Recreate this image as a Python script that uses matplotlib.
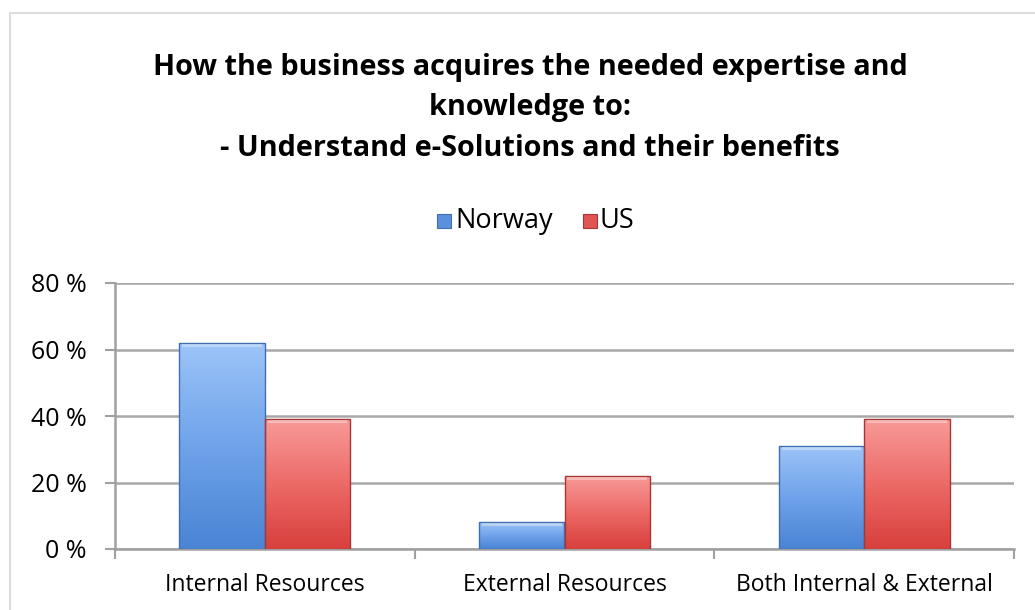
import numpy as np
import matplotlib.pyplot as plt
from matplotlib.patches import Rectangle
from matplotlib.colors import LinearSegmentedColormap

categories = ["Internal Resources", "External Resources", "Both Internal & External"]
series_names = ["Norway", "US"]
norway = [62, 8, 31]
us = [39, 22, 39]
yticks = [0, 20, 40, 60, 80]
ytick_labels = ["0 %", "20 %", "40 %", "60 %", "80 %"]

title = ("How the business acquires the needed expertise and\n"
         "knowledge to:\n"
         "- Understand e-Solutions and their benefits")

plt.rcParams['font.family'] = ['Open Sans', 'DejaVu Sans']

W, H = 1035, 610
fig = plt.figure(figsize=(W / 100, H / 100), dpi=100)
ax = fig.add_axes([115 / W, 1 - 549 / H, (1014 - 115) / W, (549 - 283) / H])

blue_cmap = LinearSegmentedColormap.from_list("b", ["#4a84d4", "#6fa3ea", "#9cc4f8"])
red_cmap = LinearSegmentedColormap.from_list("r", ["#d8403d", "#ec6a67", "#f79a98"])
edge_cols = {"Norway": "#3f6fb0", "US": "#a83634"}

x = np.arange(len(categories))
bw = 0.285
grad = np.linspace(0, 1, 100).reshape(-1, 1)

def draw_bar(xc, val, cmap, edge):
    x0, x1 = xc - bw / 2, xc + bw / 2
    im = ax.imshow(grad, cmap=cmap, extent=[x0, x1, 0, val], origin="lower",
                   aspect="auto", zorder=3)
    r = Rectangle((x0, 0), bw, val, facecolor="none", edgecolor=edge, lw=1.0, zorder=4)
    ax.add_patch(r)
    im.set_clip_path(r)
    # bevel highlight at the top
    ax.add_patch(Rectangle((x0 + 0.01, val - min(1.2, val * 0.15)), bw - 0.02,
                           min(1.0, val * 0.12), facecolor="white", alpha=0.35,
                           lw=0, zorder=5))

for i in range(len(categories)):
    draw_bar(x[i] - bw / 2, norway[i], blue_cmap, edge_cols["Norway"])
    draw_bar(x[i] + bw / 2, us[i], red_cmap, edge_cols["US"])

ax.set_xlim(-0.5, len(categories) - 0.5)
ax.set_ylim(0, 80)
ax.set_yticks(yticks)
ax.set_yticklabels(ytick_labels, fontsize=18)
ax.set_xticks(x)
ax.set_xticklabels(categories, fontsize=16.5)
ax.set_xticks(np.arange(len(categories) + 1) - 0.5, minor=True)
ax.tick_params(axis="x", which="major", length=0, pad=17)
ax.tick_params(axis="x", which="minor", length=7, color="#a0a0a0", width=1.5)
ax.tick_params(axis="y", length=7.5, color="#a0a0a0", width=1.5, pad=13)
ax.yaxis.grid(True, color="#a8a8a8", lw=1.8, zorder=0)
ax.set_axisbelow(True)
for s in ["top", "right"]:
    ax.spines[s].set_visible(False)
for s in ["left", "bottom"]:
    ax.spines[s].set_color("#a0a0a0")
    ax.spines[s].set_linewidth(1.8)

fig.text(530 / W, 1 - 108 / H, title, ha="center", va="center", fontsize=20.8,
         fontweight="bold", linespacing=1.5)

# legend
legend_y = 1 - 221 / H
fig.patches.append(Rectangle((437 / W, legend_y - 7 / H), 14 / W, 14 / H,
                             transform=fig.transFigure, facecolor="#5b91dc",
                             edgecolor="#3f6fb0", lw=0.8))
fig.text(455 / W, legend_y, series_names[0], ha="left", va="center", fontsize=19.5)
fig.patches.append(Rectangle((583 / W, legend_y - 7 / H), 14 / W, 14 / H,
                             transform=fig.transFigure, facecolor="#e05553",
                             edgecolor="#a83634", lw=0.8))
fig.text(600 / W, legend_y, series_names[1], ha="left", va="center", fontsize=19.5)

# outer chart border
fig.patches.append(Rectangle((10 / W, -0.05), 1.2, 1 - 13 / H + 0.05,
                             transform=fig.transFigure, facecolor="none",
                             edgecolor="#dcdcdc", lw=1.5))

fig.savefig("out.png", dpi=100)
